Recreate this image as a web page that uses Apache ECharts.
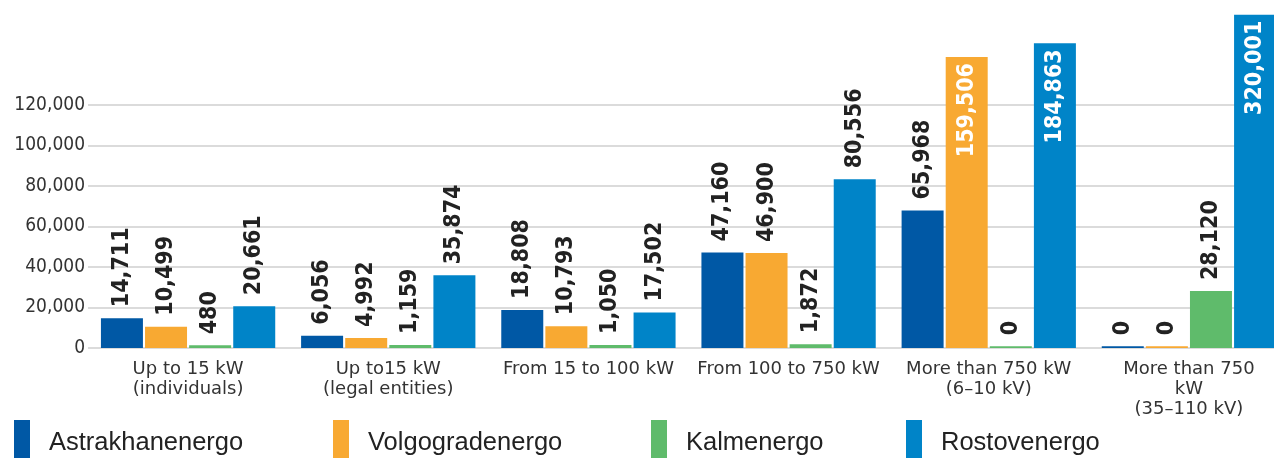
<!DOCTYPE html>
<html>
<head>
<meta charset="utf-8">
<script src="https://cdn.jsdelivr.net/npm/echarts@6/dist/echarts.min.js"></script>
<style>html,body{margin:0;padding:0;background:#fff}#c{width:1274px;height:458px}</style>
</head>
<body>
<div id="c"></div>
<script>
const categories = [
  'Up to 15 kW\n(individuals)',
  'Up to15 kW\n(legal entities)',
  'From 15 to 100 kW',
  'From 100 to 750 kW',
  'More than 750 kW\n(6–10 kV)',
  'More than 750\nkW\n(35–110 kV)'
];
const seriesNames = ['Astrakhanenergo', 'Volgogradenergo', 'Kalmenergo', 'Rostovenergo'];
const colors = ['#0058a5', '#f8a932', '#5fbb6b', '#0084c8'];
const yTicks = [0, 20000, 40000, 60000, 80000, 100000, 120000];

// actual values (shown as labels)
const astrakhanenergo = [14711, 6056, 18808, 47160, 65968, 0];
const volgogradenergo = [10499, 4992, 10793, 46900, 159506, 0];
const kalmenergo      = [480, 1159, 1050, 1872, 0, 28120];
const rostovenergo    = [20661, 35874, 17502, 80556, 184863, 320001];

// bar heights as drawn in the picture (largest bars drawn on a broken scale; zero bars drawn as a thin line)
const astrakhanenergoDrawn = [14711, 6056, 18808, 47160, 67900, 900];
const volgogradenergoDrawn = [10499, 4992, 10793, 46900, 143700, 900];
const kalmenergoDrawn      = [1300, 1500, 1500, 1900, 900, 28120];
const rostovenergoDrawn    = [20661, 35874, 17502, 83300, 150500, 164600];

const actual = [astrakhanenergo, volgogradenergo, kalmenergo, rostovenergo];
const drawn = [astrakhanenergoDrawn, volgogradenergoDrawn, kalmenergoDrawn, rostovenergoDrawn];

const fmt = v => v.toLocaleString('en-US');
const valueFont = '"DejaVu Sans Condensed", "DejaVu Sans", sans-serif';

const series = seriesNames.map((name, si) => ({
  name,
  type: 'bar',
  clip: false,
  barWidth: 42,
  barGap: '5%',
  itemStyle: { color: colors[si] },
  data: drawn[si].map((h, i) => {
    const real = actual[si][i];
    const inside = real > 120000;
    return {
      value: h,
      label: inside ? {
        show: true, position: 'insideTop', rotate: 90, align: 'right', verticalAlign: 'middle',
        distance: 6, color: '#fff', fontFamily: valueFont, fontWeight: 'bold', fontSize: 23,
        formatter: () => fmt(real)
      } : {
        show: true, position: 'top', rotate: 90, align: 'left', verticalAlign: 'middle',
        distance: 11, color: '#222', fontFamily: valueFont, fontWeight: 'bold', fontSize: 23,
        formatter: () => fmt(real)
      }
    };
  })
}));

const legendLefts = [14, 333, 651, 906];
const legends = seriesNames.map((name, i) => ({
  data: [name],
  left: legendLefts[i],
  top: 420,
  padding: 0,
  icon: 'rect',
  itemWidth: 16,
  itemHeight: 38,
  itemGap: 0,
  selectedMode: false,
  formatter: n => '{t|' + n + '}',
  textStyle: {
    fontFamily: '"Liberation Sans", Arial, sans-serif', fontSize: 25.5, color: '#222',
    rich: { t: { fontFamily: '"Liberation Sans", Arial, sans-serif', fontSize: 25.5, color: '#222', padding: [7, 0, 0, 14] } }
  }
}));

const chart = echarts.init(document.getElementById('c'), null, { renderer: 'canvas' });
chart.setOption({
  animation: false,
  color: colors,
  legend: legends,
  grid: { left: 88, top: 105, width: 1201, height: 243, containLabel: false, outerBoundsMode: 'none' },
  xAxis: {
    type: 'category',
    data: categories,
    axisLine: { show: false },
    axisTick: { show: false },
    axisLabel: {
      interval: 0, margin: 11, color: '#333', fontSize: 18, lineHeight: 20,
      fontFamily: '"DejaVu Sans", sans-serif'
    }
  },
  yAxis: {
    type: 'value',
    min: yTicks[0],
    max: yTicks[yTicks.length - 1],
    interval: yTicks[1] - yTicks[0],
    axisLine: { show: false },
    axisTick: { show: false },
    splitLine: { lineStyle: { color: '#cfcfcf', width: 1.5 } },
    axisLabel: {
      margin: 3, color: '#333', fontSize: 19,
      fontFamily: '"DejaVu Sans Condensed", "DejaVu Sans", sans-serif',
      formatter: v => fmt(v)
    }
  },
  series
});
</script>
</body>
</html>
